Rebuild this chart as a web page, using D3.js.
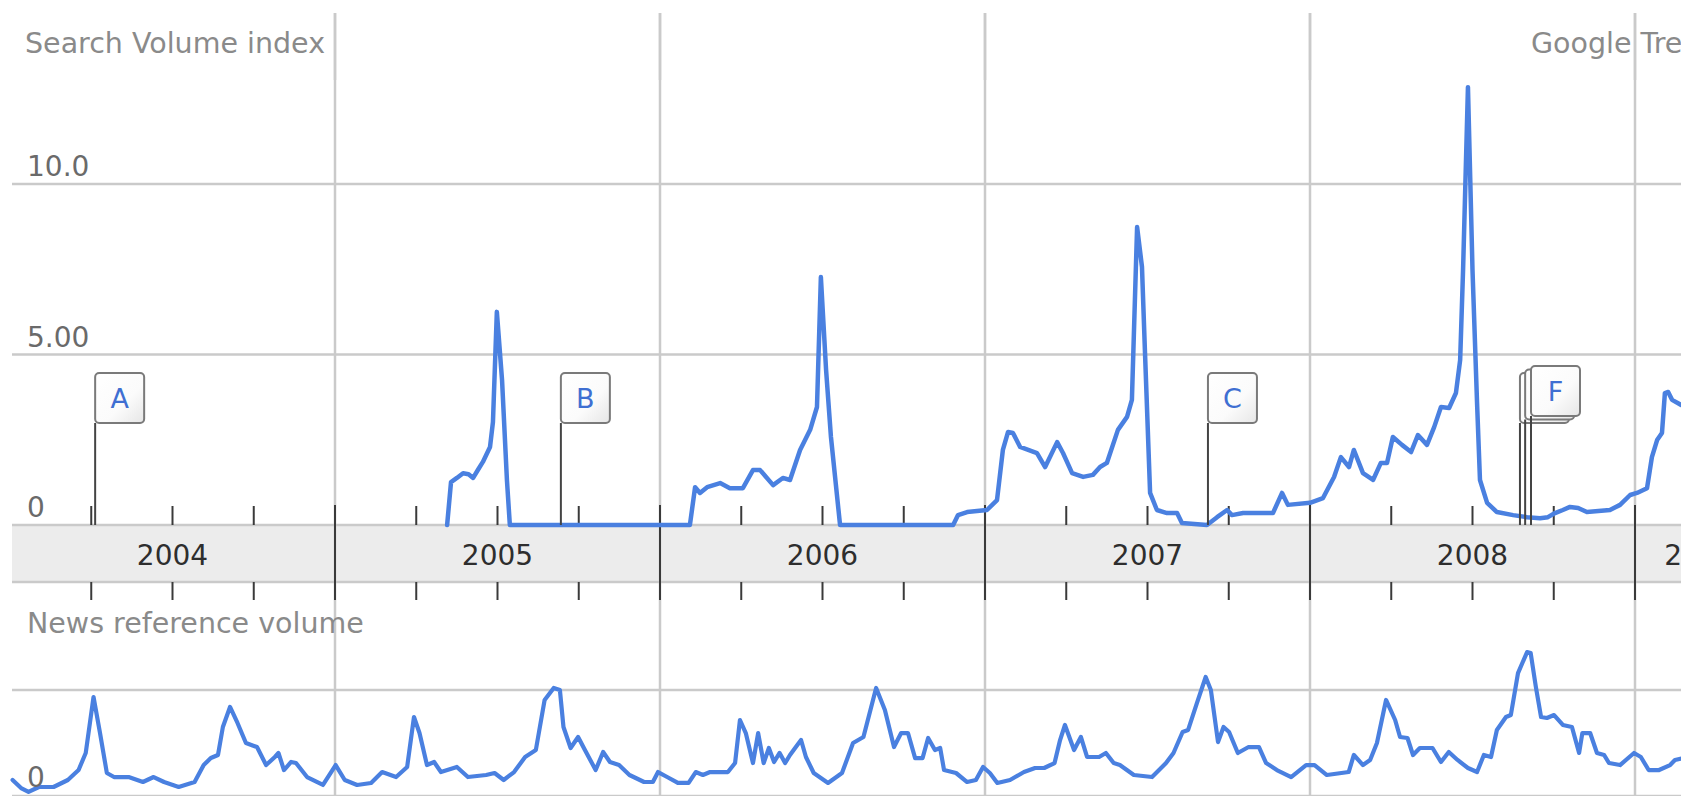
<!DOCTYPE html>
<html><head><meta charset="utf-8">
<script src="https://cdn.jsdelivr.net/npm/d3@7"></script>
<style>
body{margin:0;background:#fff;overflow:hidden}
svg{display:block}
text{font-family:"DejaVu Sans","Liberation Sans",sans-serif}
</style>
</head><body>
<svg id="c" width="1681" height="796"></svg>
<script>
// ---------------- DATA ----------------
const yearLabels = ["2004","2005","2006","2007","2008","2009"];
const searchTicks = [0, 5, 10];
const searchTickLabels = ["0", "5.00", "10.0"];
const newsTicks = [0, 1];
const newsTickLabels = ["0", ""];

// decimal-year dates and Search Volume Index values
const searchDates = [2005.345,2005.357,2005.375,2005.394,2005.411,2005.425,2005.44,2005.455,2005.477,2005.486,2005.498,2005.514,2005.529,2005.538,
 2006.092,2006.108,2006.123,2006.145,2006.165,2006.185,2006.215,2006.255,2006.286,2006.308,2006.348,2006.378,2006.4,2006.431,2006.462,2006.483,2006.495,2006.511,2006.526,2006.554,
 2006.902,2006.917,2006.945,2007.006,2007.037,2007.055,2007.071,2007.086,2007.108,2007.16,2007.185,2007.222,2007.24,2007.268,2007.302,2007.332,2007.354,2007.375,2007.409,2007.437,2007.452,2007.468,2007.483,2007.492,2007.508,2007.529,2007.56,2007.591,2007.606,
 2007.683,2007.714,2007.745,2007.76,2007.794,2007.886,2007.914,2007.932,2008.0,2008.04,2008.074,2008.095,2008.12,2008.135,2008.163,2008.194,2008.218,2008.237,2008.255,2008.283,2008.311,2008.332,2008.36,2008.382,2008.403,2008.428,2008.449,2008.462,2008.471,2008.486,2008.5,2008.514,2008.523,
 2008.545,2008.575,2008.625,2008.668,2008.708,2008.732,2008.754,2008.778,2008.8,2008.825,2008.852,2008.923,2008.954,2008.985,2009.006,2009.037,2009.052,2009.068,2009.083,2009.092,2009.102,2009.114,2009.142];
const searchValues = [0,1.26,1.38,1.52,1.49,1.38,1.62,1.85,2.29,3.02,6.25,4.25,1.32,0,
 0,1.11,0.94,1.11,1.17,1.23,1.08,1.08,1.61,1.61,1.17,1.38,1.32,2.2,2.79,3.46,7.27,4.55,2.58,0,
 0,0.29,0.38,0.44,0.73,2.2,2.73,2.7,2.29,2.11,1.7,2.43,2.11,1.52,1.41,1.47,1.7,1.82,2.79,3.17,3.67,8.74,7.57,5.13,0.94,0.44,0.35,0.35,0.06,
 0,0.23,0.44,0.29,0.35,0.35,0.94,0.59,0.65,0.79,1.41,1.99,1.7,2.2,1.52,1.32,1.82,1.82,2.58,2.35,2.14,2.64,2.35,2.87,3.46,3.43,3.87,4.84,7.48,12.84,7.48,3.58,1.32,
 0.65,0.38,0.29,0.23,0.2,0.23,0.35,0.44,0.53,0.5,0.38,0.44,0.59,0.88,0.94,1.08,1.99,2.49,2.7,3.87,3.9,3.67,3.52];

// decimal-year dates and News reference volume values (1 = first gridline)
const newsDates = [2004.008,2004.034,2004.057,2004.089,2004.134,2004.178,2004.211,2004.233,2004.257,2004.277,2004.298,2004.32,2004.365,2004.409,2004.442,2004.474,2004.519,2004.568,2004.596,2004.618,2004.64,2004.655,2004.677,2004.7,2004.726,2004.76,2004.788,2004.815,2004.826,2004.843,2004.865,2004.88,2004.914,2004.963,
 2005.002,2005.03,2005.068,2005.111,2005.145,2005.188,2005.222,2005.243,2005.26,2005.283,2005.305,2005.326,2005.375,2005.409,2005.465,2005.491,2005.519,2005.551,2005.585,2005.618,2005.645,2005.673,2005.692,2005.703,2005.725,2005.748,2005.769,2005.802,2005.825,2005.846,2005.874,2005.906,2005.951,2005.978,2005.994,
 2006.022,2006.055,2006.088,2006.11,2006.132,2006.154,2006.209,2006.231,2006.246,2006.264,2006.286,2006.302,2006.319,2006.335,2006.351,2006.368,2006.385,2006.4,2006.418,2006.434,2006.449,2006.473,2006.517,2006.56,2006.594,2006.626,2006.665,2006.692,2006.72,2006.742,2006.763,2006.785,2006.808,2006.825,2006.846,2006.862,2006.874,2006.911,2006.945,2006.972,2006.994,
 2007.015,2007.038,2007.077,2007.12,2007.154,2007.182,2007.214,2007.231,2007.246,2007.274,2007.295,2007.314,2007.351,2007.372,2007.396,2007.415,2007.458,2007.514,2007.557,2007.58,2007.608,2007.625,2007.652,2007.679,2007.695,2007.717,2007.734,2007.751,2007.778,2007.811,2007.843,2007.865,2007.898,2007.942,2007.988,
 2008.014,2008.052,2008.119,2008.135,2008.163,2008.185,2008.206,2008.234,2008.262,2008.277,2008.3,2008.317,2008.338,2008.377,2008.403,2008.427,2008.454,2008.486,2008.514,2008.535,2008.557,2008.575,2008.603,2008.618,2008.64,2008.668,2008.679,2008.695,2008.711,2008.729,2008.751,2008.778,2008.806,2008.828,2008.838,2008.862,2008.883,2008.905,2008.92,2008.954,2008.997,
 2009.018,2009.042,2009.074,2009.108,2009.123,2009.148];
const newsValues = [0.151,0.075,0.038,0.085,0.085,0.151,0.245,0.406,0.934,0.594,0.217,0.179,0.179,0.132,0.179,0.132,0.085,0.132,0.292,0.358,0.387,0.651,0.84,0.689,0.5,0.462,0.292,0.368,0.406,0.245,0.321,0.311,0.179,0.104,
 0.292,0.151,0.104,0.123,0.226,0.179,0.274,0.745,0.594,0.292,0.321,0.226,0.274,0.179,0.198,0.217,0.151,0.226,0.368,0.434,0.906,1.019,1.0,0.651,0.453,0.557,0.434,0.245,0.415,0.321,0.292,0.198,0.132,0.132,0.226,
 0.179,0.123,0.123,0.226,0.198,0.226,0.226,0.311,0.717,0.594,0.311,0.594,0.311,0.453,0.321,0.406,0.311,0.387,0.462,0.528,0.368,0.217,0.123,0.217,0.5,0.557,1.019,0.811,0.462,0.594,0.594,0.358,0.358,0.547,0.434,0.453,0.245,0.217,0.132,0.151,0.274,
 0.217,0.123,0.151,0.226,0.264,0.264,0.311,0.528,0.67,0.434,0.557,0.368,0.368,0.406,0.311,0.292,0.198,0.179,0.311,0.406,0.604,0.623,0.877,1.123,1.0,0.509,0.651,0.604,0.406,0.462,0.462,0.311,0.245,0.179,0.292,
 0.292,0.198,0.226,0.387,0.292,0.34,0.5,0.906,0.717,0.557,0.547,0.387,0.453,0.453,0.321,0.415,0.34,0.264,0.226,0.387,0.368,0.623,0.745,0.764,1.16,1.358,1.349,1.028,0.745,0.736,0.764,0.67,0.651,0.406,0.594,0.594,0.406,0.387,0.311,0.292,0.406,
 0.368,0.245,0.245,0.292,0.34,0.358];

const flagLetters = ["A","B","C","D","E","F"];
const flagDates = [2004.262, 2005.695, 2007.686, 2008.646, 2008.662, 2008.68];

// ---------------- LAYOUT ----------------
const W = 1681, H = 796;
const left = 12;
const x = d3.scaleLinear().domain([2004, 2009]).range([10, 1635]);
const xEnd = 2009.4;                       // chart continues past the visible edge
const yS = d3.scaleLinear().domain([0, 10]).range([525, 184]);
const yN = d3.scaleLinear().domain([0, 1]).range([796, 690]);
const bandTop = yS(0), bandBot = 582;
const gridTop = 13;
const blue = "#4a80e0";
const svg = d3.select("#c");

// gradient for flags
const defs = svg.append("defs");
const g = defs.append("linearGradient").attr("id","fg").attr("x1","0").attr("y1","0").attr("x2","1").attr("y2","1");
g.append("stop").attr("offset","0").attr("stop-color","#ffffff");
g.append("stop").attr("offset","0.6").attr("stop-color","#fbfbfb");
g.append("stop").attr("offset","1").attr("stop-color","#e6e6e6");

// band
svg.append("rect").attr("x", left).attr("y", bandTop).attr("width", W - left).attr("height", bandBot - bandTop)
  .attr("fill", "#ececec");

// horizontal gridlines
const hg = svg.append("g").attr("stroke", "#cacaca").attr("stroke-width", 2.5);
searchTicks.forEach(t => hg.append("line").attr("x1", left).attr("x2", W).attr("y1", yS(t)).attr("y2", yS(t)));
hg.append("line").attr("x1", left).attr("x2", W).attr("y1", bandBot).attr("y2", bandBot);
newsTicks.forEach(t => hg.append("line").attr("x1", left).attr("x2", W).attr("y1", yN(t)).attr("y2", yN(t)));

// vertical year gridlines
const years = d3.range(2005, 2010);
const vg = svg.append("g");
years.forEach(yr => {
  const xx = x(yr);
  vg.append("line").attr("x1", xx).attr("x2", xx).attr("y1", gridTop).attr("y2", H)
    .attr("stroke", "#cacaca").attr("stroke-width", 2.5);
  vg.append("line").attr("x1", xx).attr("x2", xx).attr("y1", bandTop - 20).attr("y2", bandBot + 18)
    .attr("stroke", "#3a3a3a").attr("stroke-width", 2);
});

// quarter ticks
const quarters = [];
d3.range(2004, 2010).forEach(yr => [0.25, 0.5, 0.75].forEach(q => quarters.push(yr + q)));
const tg = svg.append("g").attr("stroke", "#3a3a3a").attr("stroke-width", 2);
quarters.filter(q => x(q) < W).forEach(q => {
  tg.append("line").attr("x1", x(q)).attr("x2", x(q)).attr("y1", bandTop - 19).attr("y2", bandTop);
  tg.append("line").attr("x1", x(q)).attr("x2", x(q)).attr("y1", bandBot).attr("y2", bandBot + 18);
});

// year labels
yearLabels.forEach(lbl => {
  const yr = +lbl;
  const a = Math.max(yr, 2004), b = Math.min(yr + 1, xEnd);
  svg.append("text").attr("x", x((a + b) / 2)).attr("y", 565).attr("text-anchor", "middle")
    .attr("font-size", 28).attr("fill", "#2e2e2e").text(lbl);
});

// lines
const line = (ys) => d3.line().x(d => x(d[0])).y(d => ys(d[1]));
const searchData = searchDates.map((d, i) => [d, searchValues[i]]);
const newsData = newsDates.map((d, i) => [d, newsValues[i]]);
svg.append("path").datum(searchData).attr("d", line(yS)).attr("fill", "none")
  .attr("stroke", blue).attr("stroke-width", 4.5).attr("stroke-linejoin", "round").attr("stroke-linecap", "round");
svg.append("path").datum(newsData).attr("d", line(yN)).attr("fill", "none")
  .attr("stroke", blue).attr("stroke-width", 4.2).attr("stroke-linejoin", "round").attr("stroke-linecap", "round");

// flags (flags close together are stacked; only the front one shows its letter)
let prevX = -1000, level = 0;
const flags = flagLetters.map((l, i) => {
  const fx = x(flagDates[i]);
  level = (fx - prevX < 40) ? level + 1 : 0;
  prevX = fx;
  return {l, fx, level};
});
flags.forEach((f, i) => { f.covered = i < flags.length - 1 && flags[i + 1].level > f.level; });
const fg = svg.append("g");
flags.forEach(f => {
  const top = 373 - f.level * 3.5, h = 50, w = 49;
  fg.append("line").attr("x1", f.fx).attr("x2", f.fx).attr("y1", top + h).attr("y2", bandTop)
    .attr("stroke", "#444").attr("stroke-width", 2);
  fg.append("rect").attr("x", f.fx).attr("y", top).attr("width", w).attr("height", h).attr("rx", 4)
    .attr("fill", "url(#fg)").attr("stroke", "#7a7a7a").attr("stroke-width", 2);
  if (!f.covered) {
    fg.append("text").attr("x", f.fx + w / 2).attr("y", top + h / 2 + 10).attr("text-anchor", "middle")
      .attr("font-size", 27).attr("fill", "#3f6fd2").text(f.l);
  }
});

// texts
svg.append("text").attr("x", 25).attr("y", 53).attr("font-size", 28.5).attr("fill", "#8a8a8a").text("Search Volume index");
svg.append("text").attr("x", 1531).attr("y", 53).attr("font-size", 28.5).attr("fill", "#8a8a8a").text("Google Trends");
svg.append("text").attr("x", 27).attr("y", 633).attr("font-size", 28.5).attr("fill", "#8a8a8a").text("News reference volume");
searchTicks.forEach((t, i) => svg.append("text").attr("x", 27).attr("y", yS(t) - 8).attr("font-size", 28)
  .attr("fill", "#6a6a6a").text(searchTickLabels[i]));
newsTicks.forEach((t, i) => svg.append("text").attr("x", 27).attr("y", yN(t) - 9).attr("font-size", 28)
  .attr("fill", "#6a6a6a").text(newsTickLabels[i]));

// year gridlines drawn over the Google Trends text (as in reference)
years.forEach(yr => {
  svg.append("line").attr("x1", x(yr)).attr("x2", x(yr)).attr("y1", gridTop).attr("y2", 80)
    .attr("stroke", "#cacaca").attr("stroke-width", 2.5);
});
</script>
</body></html>
